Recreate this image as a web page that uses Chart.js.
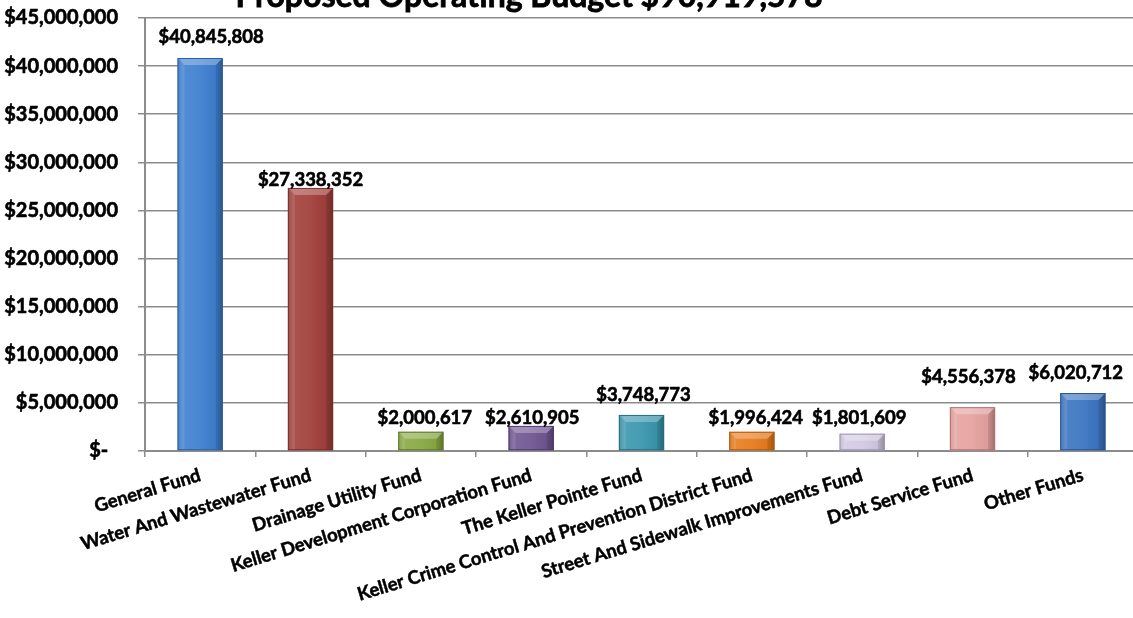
<!DOCTYPE html>
<html>
<head>
<meta charset="utf-8">
<script src="https://cdn.jsdelivr.net/npm/chart.js@4.4.1/dist/chart.umd.min.js"></script>
<style>
html,body{margin:0;padding:0;background:#fff;overflow:hidden;}
#wrap{position:relative;width:1138px;height:618px;}
</style>
</head>
<body>
<div id="wrap"><canvas id="c" width="1138" height="618"></canvas></div>
<script>
// ---- data ----
const chartTitle = 'Proposed Operating Budget $90,919,578';
const categories = [
  'General Fund',
  'Water And Wastewater Fund',
  'Drainage Utility Fund',
  'Keller Development Corporation Fund',
  'The Keller Pointe Fund',
  'Keller Crime Control And Prevention District Fund',
  'Street And Sidewalk Improvements Fund',
  'Debt Service Fund',
  'Other Funds'
];
const budgets = [40845808, 27338352, 2000617, 2610905, 3748773, 1996424, 1801609, 4556378, 6020712];
const yTickValues = [0, 5000000, 10000000, 15000000, 20000000, 25000000, 30000000, 35000000, 40000000, 45000000];

// ---- styles ----
const barColors   = ['#3E7FD0','#A13F3B','#88A842','#6F5592','#3A96AD','#E87B1C','#D2CAE4','#E6A2A0','#3B75C2'];
const barBorders  = ['#2E5F9E','#7E2E2B','#5E7A2A','#4E3A6B','#286E80','#B35A0E','#9E94B8','#B37472','#2A5590'];
// label nudges in px: [dx, distance of label centre above bar top]
const labelNudge  = [[11,21],[0,8],[4,14],[1,8],[2,20],[4,14],[-3,16],[-4,30],[-7,20]];
const FONT = 'Lato, "Open Sans", sans-serif';

function fmtMoney(v){
  if (v === 0) return '$-  ';
  return '$' + String(Math.round(v)).replace(/\B(?=(\d{3})+(?!\d))/g, ',');
}

const bevelPlugin = {
  id: 'bevel',
  afterDatasetsDraw(chart){
    const ctx = chart.ctx;
    const meta = chart.getDatasetMeta(0);
    meta.data.forEach((bar, i) => {
      const x0 = bar.x - bar.width/2, x1 = bar.x + bar.width/2;
      const top = bar.y, bot = bar.base;
      const h = bot - top;
      ctx.save();
      const g = ctx.createLinearGradient(x0, 0, x1, 0);
      g.addColorStop(0, 'rgba(0,0,0,0.10)');
      g.addColorStop(0.12, 'rgba(255,255,255,0.10)');
      g.addColorStop(0.5, 'rgba(255,255,255,0.06)');
      g.addColorStop(0.88, 'rgba(0,0,0,0.04)');
      g.addColorStop(1, 'rgba(0,0,0,0.22)');
      ctx.fillStyle = g;
      ctx.fillRect(x0, top, x1 - x0, h);
      const b = Math.min(7, h/2);
      ctx.beginPath();
      ctx.moveTo(x0, top); ctx.lineTo(x1, top);
      ctx.lineTo(x1 - b, top + b); ctx.lineTo(x0 + b, top + b); ctx.closePath();
      ctx.fillStyle = 'rgba(255,255,255,0.28)';
      ctx.fill();
      ctx.beginPath();
      ctx.moveTo(x0, top); ctx.lineTo(x0 + b, top + b); ctx.lineTo(x0 + b, bot); ctx.lineTo(x0, bot); ctx.closePath();
      ctx.fillStyle = 'rgba(255,255,255,0.10)';
      ctx.fill();
      ctx.beginPath();
      ctx.moveTo(x1, top); ctx.lineTo(x1 - b, top + b); ctx.lineTo(x1 - b, bot); ctx.lineTo(x1, bot); ctx.closePath();
      ctx.fillStyle = 'rgba(0,0,0,0.12)';
      ctx.fill();
      ctx.strokeStyle = barBorders[i];
      ctx.lineWidth = 1;
      ctx.strokeRect(x0 + 0.5, top + 0.5, x1 - x0 - 1, h - 1);
      ctx.restore();
    });
  }
};

const labelPlugin = {
  id: 'valueLabels',
  afterDatasetsDraw(chart){
    const ctx = chart.ctx;
    const meta = chart.getDatasetMeta(0);
    ctx.save();
    ctx.font = 'bold 18.5px ' + FONT;
    ctx.fillStyle = '#000';
    ctx.strokeStyle = '#000';
    ctx.lineWidth = 0.6;
    ctx.textAlign = 'center';
    ctx.textBaseline = 'middle';
    meta.data.forEach((bar, i) => {
      const [dx, dy] = labelNudge[i];
      const t = fmtMoney(budgets[i]);
      ctx.fillText(t, bar.x + dx, bar.y - dy);
      ctx.strokeText(t, bar.x + dx, bar.y - dy);
    });
    ctx.restore();
  }
};

const titlePlugin = {
  id: 'topTitle',
  afterDraw(chart){
    const ctx = chart.ctx;
    ctx.save();
    ctx.font = 'bold 32px ' + FONT;
    ctx.fillStyle = '#000';
    ctx.strokeStyle = '#000';
    ctx.lineWidth = 0.8;
    ctx.textAlign = 'center';
    ctx.textBaseline = 'alphabetic';
    ctx.fillText(chartTitle, 529, 7);
    ctx.strokeText(chartTitle, 529, 7);
    ctx.restore();
  }
};

new Chart(document.getElementById('c'), {
  type: 'bar',
  data: {
    labels: categories,
    datasets: [{
      data: budgets,
      backgroundColor: barColors,
      borderColor: barBorders,
      borderWidth: 0,
      barPercentage: 0.41,
      categoryPercentage: 1.0
    }]
  },
  options: {
    responsive: false,
    animation: false,
    devicePixelRatio: 1,
    layout: { padding: { top: 18, left: 0, right: 0, bottom: 0 } },
    plugins: { legend: { display: false }, tooltip: { enabled: false }, title: { display: false } },
    scales: {
      x: {
        grid: { offset: true, drawOnChartArea: false, drawTicks: true, tickLength: 6, color: '#8c8c8c', lineWidth: 1.5 },
        border: { display: true, color: '#8c8c8c', width: 2 },
        ticks: {
          autoSkip: false, minRotation: 17, maxRotation: 17, padding: 7,
          color: '#000', textStrokeColor: '#000', textStrokeWidth: 0.5,
          font: { family: FONT, weight: 'bold', size: 18.5 }
        },
        afterFit(s){ s.height = 618 - 451; s.paddingLeft = 0; s.paddingRight = 0; }
      },
      y: {
        min: 0, max: 45000000,
        afterBuildTicks(s){ s.ticks = yTickValues.map(v => ({ value: v })); },
        grid: { color: '#8c8c8c', lineWidth: 1.5, drawTicks: true, tickLength: 7 },
        border: { display: true, color: '#8c8c8c', width: 2 },
        ticks: {
          padding: 20, color: '#000', textStrokeColor: '#000', textStrokeWidth: 0.6,
          font: { family: FONT, weight: 'bold', size: 20 },
          callback: (v) => fmtMoney(v)
        },
        afterFit(s){ s.width = 145; s.paddingTop = 0; s.paddingBottom = 0; }
      }
    }
  },
  plugins: [bevelPlugin, labelPlugin, titlePlugin]
});
</script>
</body>
</html>
